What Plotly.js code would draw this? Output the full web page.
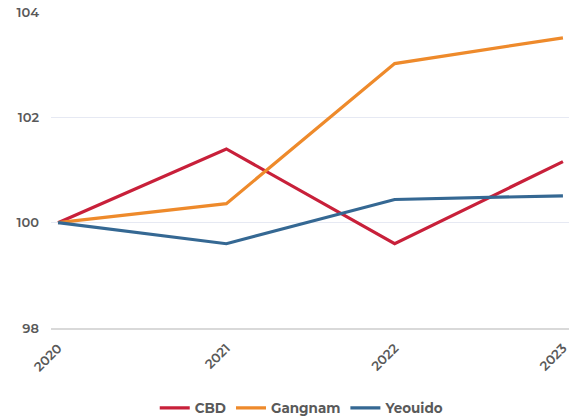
<!DOCTYPE html>
<html><head><meta charset="utf-8">
<script src="https://cdn.plot.ly/plotly-3.0.1.min.js"></script>
<style>html,body{margin:0;padding:0;background:#fff}#c{width:579px;height:419px}</style>
</head><body><div id="c"></div>
<script>
const years = [2020, 2021, 2022, 2023];
const yearLabels = ['2020', '2021', '2022', '2023'];
const cbd = [100, 101.40, 99.60, 101.16];
const gangnam = [100, 100.36, 103.02, 103.51];
const yeouido = [100, 99.60, 100.44, 100.51];
const yTicks = [98, 100, 102, 104];

const font = {family: 'Montserrat, "Open Sans", sans-serif', color: '#595959', size: 13, weight: 600};
const legFont = {family: 'Montserrat, "Open Sans", sans-serif', color: '#595959', size: 13.5, weight: 700};
const mk = (name, y, color) => ({x: years, y: y, name: name, type: 'scatter', mode: 'lines',
  line: {color: color, width: 3.2}});
const data = [
  mk('CBD', cbd, '#c8203a'),
  mk('Gangnam', gangnam, '#ee8a2b'),
  mk('Yeouido', yeouido, '#356893')
];
const layout = {
  width: 579, height: 419,
  margin: {l: 51, r: 10, t: 12, b: 91},
  paper_bgcolor: '#fff', plot_bgcolor: '#fff',
  font: font,
  showlegend: true,
  legend: {orientation: 'h', x: 0.522, xanchor: 'center', xref: 'container', yref: 'container',
    y: 0.026, yanchor: 'middle', font: legFont, itemwidth: 30, tracegroupgap: 0},
  xaxis: {range: [2019.958, 2023.036], tickvals: years, ticktext: yearLabels, automargin: false,
    tickangle: -45, showgrid: false, zeroline: false, showline: true, linecolor: '#d9d9d9', linewidth: 1.5,
    ticks: '', tickfont: font, ticklabelstandoff: 6},
  yaxis: {range: [98, 104], tickvals: yTicks, showgrid: true, gridcolor: '#e6e9f3', gridwidth: 1, automargin: false,
    zeroline: false, ticks: '', tickfont: font, ticklabelstandoff: 11}
};
Plotly.newPlot('c', data, layout, {displayModeBar: false, staticPlot: true});
</script></body></html>
